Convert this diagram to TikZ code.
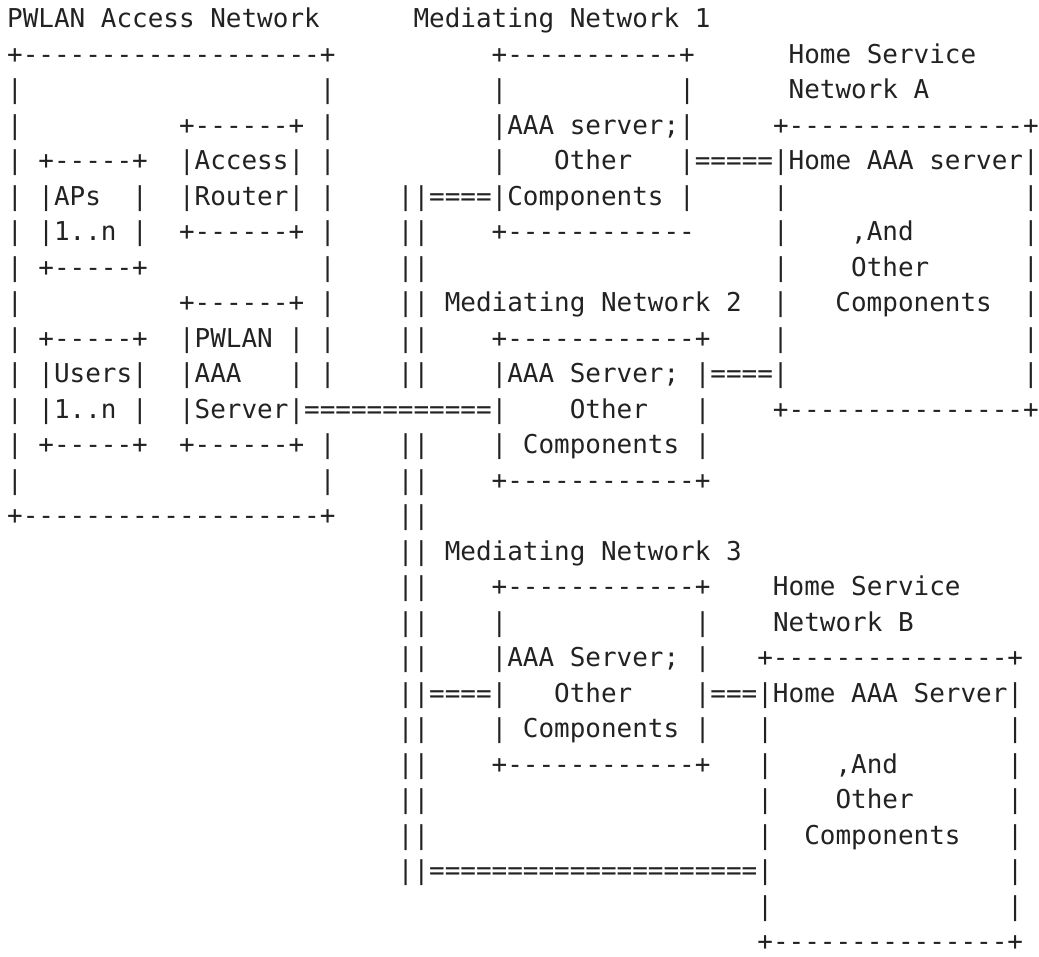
\documentclass[tikz,border=0pt]{standalone}
\usepackage{fontspec}
\newfontfamily\asciimono{DejaVu Sans Mono}
\definecolor{ink}{HTML}{222222}
\ExplSyntaxOn
\cs_new:Npn \Rp #1#2 { \prg_replicate:nn {#1} {#2} }
\ExplSyntaxOff
\newcommand\Sp[1]{\Rp{#1}{~}}
\newcommand\Da[1]{\Rp{#1}{-}}
\newcommand\Eq[1]{\Rp{#1}{=}}
\tikzset{asciirow/.style={anchor=base west, inner sep=0pt, outer sep=0pt, text=ink,
  font={\asciimono\fontsize{25.96pt}{35.5pt}\selectfont}}}
\begin{document}
\begin{tikzpicture}
\useasboundingbox (0pt,0pt) rectangle (1039pt,-956pt);
\node[asciirow] (l1) at (7.2pt,-27.5pt) {PWLAN Access Network\Sp{6}Mediating Network 1};
\node[asciirow] (l2) at (7.2pt,-63.0pt) {+\Da{19}+\Sp{10}+\Da{11}+\Sp{6}Home Service};
\node[asciirow] (l3) at (7.2pt,-98.5pt) {|\Sp{19}|\Sp{10}|\Sp{11}|\Sp{6}Network A};
\node[asciirow] (l4) at (7.2pt,-134.0pt) {|\Sp{10}+\Da{6}+\Sp{1}|\Sp{10}|AAA server;|\Sp{5}+\Da{15}+};
\node[asciirow] (l5) at (7.2pt,-169.5pt) {|\Sp{1}+\Da{5}+\Sp{2}|Access|\Sp{1}|\Sp{10}|\Sp{3}Other\Sp{3}|\Eq{5}|Home AAA server|};
\node[asciirow] (l6) at (7.2pt,-205.0pt) {|\Sp{1}|APs\Sp{2}|\Sp{2}|Router|\Sp{1}|\Sp{4}||\Eq{4}|Components\Sp{1}|\Sp{5}|\Sp{15}|};
\node[asciirow] (l7) at (7.2pt,-240.5pt) {|\Sp{1}|1..n\Sp{1}|\Sp{2}+\Da{6}+\Sp{1}|\Sp{4}||\Sp{4}+\Da{12}\Sp{5}|\Sp{4},And\Sp{7}|};
\node[asciirow] (l8) at (7.2pt,-276.0pt) {|\Sp{1}+\Da{5}+\Sp{11}|\Sp{4}||\Sp{22}|\Sp{4}Other\Sp{6}|};
\node[asciirow] (l9) at (7.2pt,-311.5pt) {|\Sp{10}+\Da{6}+\Sp{1}|\Sp{4}||\Sp{1}Mediating Network 2\Sp{2}|\Sp{3}Components\Sp{2}|};
\node[asciirow] (l10) at (7.2pt,-347.0pt) {|\Sp{1}+\Da{5}+\Sp{2}|PWLAN\Sp{1}|\Sp{1}|\Sp{4}||\Sp{4}+\Da{12}+\Sp{4}|\Sp{15}|};
\node[asciirow] (l11) at (7.2pt,-382.5pt) {|\Sp{1}|Users|\Sp{2}|AAA\Sp{3}|\Sp{1}|\Sp{4}||\Sp{4}|AAA Server;\Sp{1}|\Eq{4}|\Sp{15}|};
\node[asciirow] (l12) at (7.2pt,-418.0pt) {|\Sp{1}|1..n\Sp{1}|\Sp{2}|Server|\Eq{12}|\Sp{4}Other\Sp{3}|\Sp{4}+\Da{15}+};
\node[asciirow] (l13) at (7.2pt,-453.5pt) {|\Sp{1}+\Da{5}+\Sp{2}+\Da{6}+\Sp{1}|\Sp{4}||\Sp{4}|\Sp{1}Components\Sp{1}|};
\node[asciirow] (l14) at (7.2pt,-489.0pt) {|\Sp{19}|\Sp{4}||\Sp{4}+\Da{12}+};
\node[asciirow] (l15) at (7.2pt,-524.5pt) {+\Da{19}+\Sp{4}||};
\node[asciirow] (l16) at (7.2pt,-560.0pt) {\Sp{25}||\Sp{1}Mediating Network 3};
\node[asciirow] (l17) at (7.2pt,-595.5pt) {\Sp{25}||\Sp{4}+\Da{12}+\Sp{4}Home Service};
\node[asciirow] (l18) at (7.2pt,-631.0pt) {\Sp{25}||\Sp{4}|\Sp{12}|\Sp{4}Network B};
\node[asciirow] (l19) at (7.2pt,-666.5pt) {\Sp{25}||\Sp{4}|AAA Server;\Sp{1}|\Sp{3}+\Da{15}+};
\node[asciirow] (l20) at (7.2pt,-702.0pt) {\Sp{25}||\Eq{4}|\Sp{3}Other\Sp{4}|\Eq{3}|Home AAA Server|};
\node[asciirow] (l21) at (7.2pt,-737.5pt) {\Sp{25}||\Sp{4}|\Sp{1}Components\Sp{1}|\Sp{3}|\Sp{15}|};
\node[asciirow] (l22) at (7.2pt,-773.0pt) {\Sp{25}||\Sp{4}+\Da{12}+\Sp{3}|\Sp{4},And\Sp{7}|};
\node[asciirow] (l23) at (7.2pt,-808.5pt) {\Sp{25}||\Sp{21}|\Sp{4}Other\Sp{6}|};
\node[asciirow] (l24) at (7.2pt,-844.0pt) {\Sp{25}||\Sp{21}|\Sp{2}Components\Sp{3}|};
\node[asciirow] (l25) at (7.2pt,-879.5pt) {\Sp{25}||\Eq{21}|\Sp{15}|};
\node[asciirow] (l26) at (7.2pt,-915.0pt) {\Sp{48}|\Sp{15}|};
\node[asciirow] (l27) at (7.2pt,-950.5pt) {\Sp{48}+\Da{15}+};
\end{tikzpicture}
\end{document}
